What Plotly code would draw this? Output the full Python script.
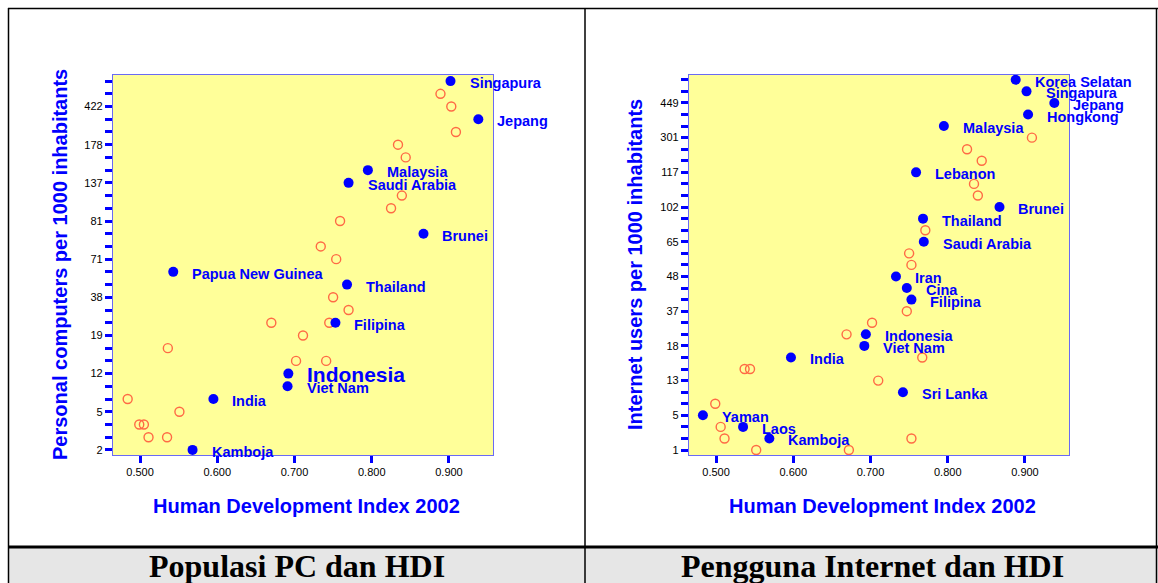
import plotly.graph_objects as go

W, H = 1158, 583

# ---------------- Data: Populasi PC dan HDI ----------------
pc_names = ["Singapura", "Jepang", "Malaysia", "Saudi Arabia", "Brunei",
            "Papua New Guinea", "Thailand", "Filipina", "Indonesia",
            "Viet Nam", "India", "Kamboja"]
pc_hdi = [0.902, 0.938, 0.795, 0.770, 0.867, 0.543, 0.768, 0.753,
          0.692, 0.691, 0.595, 0.568]
pc_rank = [29, 26, 22, 21, 17, 14, 13, 10, 6, 5, 4, 0]

pc_other_hdi = [0.889, 0.903, 0.909, 0.834, 0.844, 0.839, 0.825, 0.759,
                0.734, 0.754, 0.750, 0.770, 0.670, 0.745, 0.711, 0.536,
                0.702, 0.741, 0.484, 0.551, 0.499, 0.505, 0.511, 0.535]
pc_other_rank = [28, 27, 25, 24, 23, 20, 19, 18, 16, 15, 12, 11, 10, 10,
                 9, 8, 7, 7, 4, 3, 2, 2, 1, 1]

pc_tick_labels = ["2", "5", "12", "19", "38", "71", "81", "137", "178", "422"]
pc_n_ranks = 30

# ---------------- Data: Pengguna Internet dan HDI ----------------
net_names = ["Korea Selatan", "Singapura", "Jepang", "Hongkong", "Malaysia",
             "Lebanon", "Brunei", "Thailand", "Saudi Arabia", "Iran", "Cina",
             "Filipina", "Indonesia", "Viet Nam", "India", "Sri Lanka",
             "Yaman", "Laos", "Kamboja"]
net_hdi = [0.888, 0.902, 0.938, 0.904, 0.795, 0.759, 0.867, 0.768, 0.769,
           0.733, 0.747, 0.753, 0.694, 0.692, 0.597, 0.742, 0.483, 0.535,
           0.569]
net_rank = [32, 31, 30, 29, 28, 24, 21, 20, 18, 15, 14, 13, 10, 9, 8, 5,
            3, 2, 1]

net_other_hdi = [0.909, 0.825, 0.844, 0.834, 0.839, 0.771, 0.750, 0.753,
                 0.747, 0.702, 0.767, 0.710, 0.753, 0.669, 0.537, 0.544,
                 0.499, 0.506, 0.511, 0.552, 0.672]
net_other_rank = [27, 26, 25, 23, 22, 19, 17, 16, 12, 11, 8, 6, 1, 10, 7,
                  7, 4, 2, 1, 0, 0]

net_tick_labels = ["1", "5", "13", "18", "37", "48", "65", "102", "117",
                   "301", "449"]
net_n_ranks = 33

x_ticks = [0.5, 0.6, 0.7, 0.8, 0.9]
x_title = "Human Development Index 2002"
captions = ["Populasi PC dan HDI", "Pengguna Internet dan HDI"]

# ---------------- Styles ----------------
BLUE = "#0000FF"
OPEN = "#FF6A45"
BG = "#FFFF99"
FONT = "Arial, Liberation Sans, sans-serif"


def px(x):
    return x / W


def py(y):
    return 1 - y / H


fig = go.Figure()

panels = [
    ("x", "y", pc_names, pc_hdi, pc_rank, pc_other_hdi, pc_other_rank),
    ("x2", "y2", net_names, net_hdi, net_rank, net_other_hdi, net_other_rank),
]

annotations = []
for xa, ya, names, hdi, rank, ohdi, orank in panels:
    fig.add_trace(go.Scatter(
        x=ohdi, y=orank, xaxis=xa, yaxis=ya, mode="markers",
        marker=dict(size=9, color="rgba(0,0,0,0)",
                    line=dict(color=OPEN, width=1.4)),
        showlegend=False, hoverinfo="x+y", cliponaxis=False))
    fig.add_trace(go.Scatter(
        x=hdi, y=rank, xaxis=xa, yaxis=ya, mode="markers",
        marker=dict(size=10, color=BLUE),
        text=names, showlegend=False, hoverinfo="text+x+y",
        cliponaxis=False))
    for n, xv, yv in zip(names, hdi, rank):
        big = (n == "Indonesia" and xa == "x")
        annotations.append(dict(
            x=xv, y=yv, xref=xa, yref=ya, text=n, showarrow=False,
            xanchor="left", yanchor="middle", xshift=17,
            yshift=-1 if big else -2,
            font=dict(family=FONT, size=21 if big else 14.5, color=BLUE,
                      weight="bold")))

axis_common = dict(
    showgrid=False, zeroline=False, showline=True, mirror=True,
    linecolor="#6A6AF5", linewidth=1.2, ticks="outside", ticklen=7,
    tickwidth=3, tickcolor=BLUE,
    tickfont=dict(family=FONT, size=11, color="#000000"))

fig.update_layout(
    xaxis=dict(domain=[px(113), px(493)], range=[0.465, 0.957],
               tickvals=x_ticks, ticktext=[f"{v:.3f}" for v in x_ticks],
               anchor="y", **axis_common),
    yaxis=dict(domain=[py(455), py(75)], range=[-0.4, 29.48],
               tickvals=list(range(pc_n_ranks)),
               ticktext=[pc_tick_labels[i // 3] if i % 3 == 0 else ""
                         for i in range(pc_n_ranks)],
               anchor="x", **axis_common),
    xaxis2=dict(domain=[px(689), px(1069)], range=[0.465, 0.957],
                tickvals=x_ticks, ticktext=[f"{v:.3f}" for v in x_ticks],
                anchor="y2", **axis_common),
    yaxis2=dict(domain=[py(455), py(74.7)], range=[-0.43, 32.44],
                tickvals=list(range(net_n_ranks)),
                ticktext=[net_tick_labels[i // 3] if i % 3 == 0 else ""
                          for i in range(net_n_ranks)],
                anchor="x2", **axis_common),
)

# Axis titles as annotations
title_font = dict(family=FONT, size=20, color=BLUE, weight="bold")
common_paper = dict(xref="paper", yref="paper", showarrow=False,
                    xanchor="center", yanchor="middle")
annotations += [
    dict(x=px(60), y=py(265), text="Personal computers per 1000 inhabitants",
         textangle=-90, font=title_font, **common_paper),
    dict(x=px(635), y=py(265), text="Internet users per 1000 inhabitants",
         textangle=-90, font=title_font, **common_paper),
    dict(x=px(306), y=py(506), text=x_title, font=title_font, **common_paper),
    dict(x=px(882), y=py(506), text=x_title, font=title_font, **common_paper),
]

cap_font = dict(family="Times New Roman, Liberation Serif, serif", size=32,
                color="#000000", weight="bold")
for cx, cap in zip([297, 872], captions):
    annotations.append(dict(x=px(cx), y=py(566), text=cap, font=cap_font,
                            **common_paper))

shapes = [
    # caption background
    dict(type="rect", xref="paper", yref="paper", x0=px(8), x1=1,
         y0=0, y1=py(548), fillcolor="#E6E6E6", line=dict(width=0),
         layer="below"),
    # outer frame
    dict(type="line", xref="paper", yref="paper", x0=px(8.5), x1=px(8.5),
         y0=0, y1=py(8), line=dict(color="black", width=1.5)),
    dict(type="line", xref="paper", yref="paper", x0=px(8), x1=1,
         y0=py(8.5), y1=py(8.5), line=dict(color="black", width=1.5)),
    dict(type="line", xref="paper", yref="paper", x0=px(1156.5),
         x1=px(1156.5), y0=0, y1=py(8), line=dict(color="black", width=1.5)),
    # vertical divider
    dict(type="line", xref="paper", yref="paper", x0=px(585), x1=px(585),
         y0=0, y1=py(8), line=dict(color="black", width=1.5)),
    # horizontal divider
    dict(type="line", xref="paper", yref="paper", x0=px(8), x1=1,
         y0=py(547), y1=py(547), line=dict(color="black", width=3)),
]

fig.update_layout(
    width=W, height=H, margin=dict(l=0, r=0, t=0, b=0),
    paper_bgcolor="white", plot_bgcolor=BG,
    annotations=annotations, shapes=shapes, showlegend=False,
)

fig.write_html(
    "out.html",
    config={"displayModeBar": False},
    post_script="document.body.style.margin='0';"
                "document.body.style.overflow='hidden';")
